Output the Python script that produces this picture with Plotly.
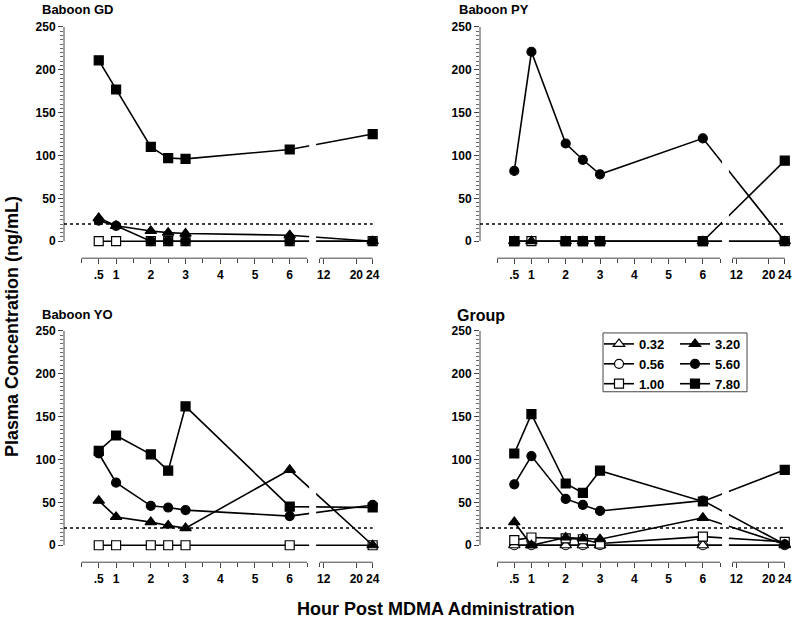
import plotly.graph_objects as go

# ---------------- data ----------------
TIMES = [0.5, 1, 2, 2.5, 3, 6, 24]
DOSES = ["0.32", "0.56", "1.00", "3.20", "5.60", "7.80"]

GD_100 = [0, 0, 0, 0, 0, 0, 0]
GD_320 = [27, 18, 12, 10, 9, 7, 0]
GD_560 = [24, 18, 0, 0, 0, 0, 0]
GD_780 = [211, 177, 110, 97, 96, 107, 125]

PY_100 = [0, 0, 0, 0, 0, 0, 0]
PY_320 = [0, 0, 0, 0, 0, 0, 0]
PY_560 = [82, 221, 114, 95, 78, 120, 0]
PY_780 = [0, None, 0, 0, 0, 0, 94]

YO_100 = [0, 0, 0, 0, 0, 0, 0]
YO_320 = [52, 33, 27, 23, 20, 88, 0]
YO_560 = [107, 73, 46, 44, 41, 34, 47]
YO_780 = [110, 128, 106, 87, 162, 45, 44]

GR_032 = [0, 0, 0, 0, 0, 0, 0]
GR_056 = [0, 0, 0, 0, 0, 0, 0]
GR_100 = [6, 9, 8, 7, 2, 10, 4]
GR_320 = [27, 0, 9, 8, 7, 32, 1]
GR_560 = [71, 104, 54, 47, 40, 52, 1]
GR_780 = [107, 153, 72, 61, 87, 51, 88]

PANEL_TITLES = ["Baboon GD", "Baboon PY", "Baboon YO", "Group"]
X_TICK_HOURS = [0.5, 1, 2, 3, 4, 5, 6, 12, 20, 24]
X_TICK_TEXT = [".5", "1", "2", "3", "4", "5", "6", "12", "20", "24"]
X_MINOR_HOURS = [0, 1.5, 2.5, 3.5, 4.5, 5.5, 6.5, 11]
Y_TICKS = [0, 50, 100, 150, 200, 250]
Y_MINOR = list(range(0, 255, 5))
THRESHOLD = 20

# ---------------- broken-axis scale ----------------
SEG1_END = 6.5
SEG2_START = 11
SEG2_END = 24
GAP = 0.36
K2 = 0.1176


def xpos(h):
    if h <= SEG1_END:
        return h
    return SEG1_END + GAP + (h - SEG2_START) * K2


XR = [-0.5, 8.6]
YR = [-19.8, 255.8]

FONT = "Liberation Sans, Arial, sans-serif"

STYLE = {
    "0.32": ("triangle-up", "white", 10),
    "0.56": ("circle", "white", 9),
    "1.00": ("square", "white", 9),
    "3.20": ("triangle-up", "black", 10),
    "5.60": ("circle", "black", 9),
    "7.80": ("square", "black", 9),
}

panels = [
    {"1.00": GD_100, "3.20": GD_320, "5.60": GD_560, "7.80": GD_780},
    {"1.00": PY_100, "3.20": PY_320, "5.60": PY_560, "7.80": PY_780},
    {"1.00": YO_100, "3.20": YO_320, "5.60": YO_560, "7.80": YO_780},
    {"0.56": GR_056, "0.32": GR_032, "1.00": GR_100, "3.20": GR_320,
     "5.60": GR_560, "7.80": GR_780},
]

W, H = 792, 628


def px(x):
    return x / W


def py(y):
    return 1 - y / H


X_DOM = [[px(64), px(380)], [px(480), px(792)], [px(64), px(380)], [px(480), px(792)]]
TOP_DOM = [py(257), py(20)]
BOT_DOM = [py(562), py(325)]
Y_DOM = [TOP_DOM, TOP_DOM, BOT_DOM, BOT_DOM]

fig = go.Figure()
shapes = []
layout = {}

for i, pdata in enumerate(panels):
    n = "" if i == 0 else str(i + 1)
    xa, ya = "x" + n, "y" + n
    is_group = i == 3
    for dose, vals in pdata.items():
        sym, fill, size = STYLE[dose]
        leg = "legend" if dose in ("0.32", "0.56", "1.00") else "legend2"
        fig.add_trace(go.Scatter(
            x=[xpos(t) for t in TIMES], y=vals,
            mode="lines+markers", name=dose,
            connectgaps=True,
            line=dict(color="black", width=1.6),
            marker=dict(symbol=sym, color=fill, size=size,
                        line=dict(color="black", width=1.2)),
            xaxis=xa, yaxis=ya, showlegend=is_group, legend=leg,
            legendrank=DOSES.index(dose) + 1, cliponaxis=False,
        ))

    layout["xaxis" + n] = dict(
        domain=X_DOM[i], range=XR, anchor=ya, showgrid=False, zeroline=False,
        showline=False, ticks="outside", ticklen=5, tickwidth=1, tickcolor="#444",
        tickmode="array", tickvals=[xpos(h) for h in X_TICK_HOURS], ticktext=X_TICK_TEXT,
        tickfont=dict(family=FONT, size=12, color="black", weight="bold"),
        minor=dict(tickmode="array", tickvals=[xpos(h) for h in X_MINOR_HOURS],
                   ticks="outside", ticklen=4, tickcolor="#444", tickwidth=1),
        fixedrange=True,
    )
    layout["yaxis" + n] = dict(
        domain=Y_DOM[i], range=YR, anchor=xa, showgrid=False, zeroline=False,
        showline=False, ticks="outside", ticklen=5, tickwidth=1, tickcolor="#444",
        tickmode="array", tickvals=Y_TICKS,
        tickfont=dict(family=FONT, size=12, color="black", weight="bold"),
        minor=dict(tickmode="array", tickvals=Y_MINOR, ticks="outside", ticklen=3,
                   tickcolor="#666", tickwidth=1),
        fixedrange=True,
    )
    # y axis line (0..250)
    shapes.append(dict(type="line", xref=xa + " domain", yref=ya, x0=0, x1=0,
                       y0=Y_TICKS[0], y1=Y_TICKS[-1], line=dict(color="#444", width=1)))
    # broken x axis line
    shapes.append(dict(type="line", xref=xa, yref=ya + " domain", x0=xpos(0), x1=xpos(SEG1_END),
                       y0=0, y1=0, line=dict(color="#444", width=1)))
    shapes.append(dict(type="line", xref=xa, yref=ya + " domain", x0=xpos(SEG2_START),
                       x1=xpos(SEG2_END), y0=0, y1=0, line=dict(color="#444", width=1)))
    # break gap over the data lines
    shapes.append(dict(type="rect", xref=xa, yref=ya, x0=xpos(SEG1_END) + 0.06,
                       x1=xpos(SEG2_START) - 0.1, y0=-9, y1=YR[1],
                       fillcolor="white", line=dict(width=0), layer="above"))
    # detection threshold
    shapes.append(dict(type="line", xref=xa, yref=ya, x0=XR[0], x1=xpos(SEG2_END),
                       y0=THRESHOLD, y1=THRESHOLD, layer="above",
                       line=dict(color="black", width=1.5, dash="dot")))

# legend frame
shapes.append(dict(type="rect", xref="paper", yref="paper",
                   x0=px(603), x1=px(747), y0=py(391), y1=py(332),
                   line=dict(color="#444", width=1), fillcolor="rgba(0,0,0,0)"))

annotations = []
title_pos = [(40, 8, 13), (457, 8, 13), (40, 313, 13), (455, 315, 16)]
for t, (tx, ty, fs) in zip(PANEL_TITLES, title_pos):
    annotations.append(dict(text=t, xref="paper", yref="paper", x=px(tx), y=py(ty),
                            xanchor="left", yanchor="middle", showarrow=False,
                            font=dict(family=FONT, size=fs, color="black", weight="bold")))
annotations.append(dict(text="Hour Post MDMA Administration", xref="paper", yref="paper",
                        x=px(436), y=py(609), xanchor="center", yanchor="middle",
                        showarrow=False,
                        font=dict(family=FONT, size=18, color="black", weight="bold")))
annotations.append(dict(text="Plasma Concentration (ng/mL)", xref="paper", yref="paper",
                        x=px(12), y=py(326), xanchor="center", yanchor="middle",
                        textangle=-90, showarrow=False,
                        font=dict(family=FONT, size=18, color="black", weight="bold")))

legend_common = dict(yanchor="top", xanchor="left", y=py(328),
                     bgcolor="rgba(0,0,0,0)", borderwidth=0, traceorder="normal",
                     font=dict(family=FONT, size=13, color="black", weight="bold"))

fig.update_layout(
    width=W, height=H, margin=dict(l=0, r=0, t=0, b=0),
    paper_bgcolor="white", plot_bgcolor="white",
    shapes=shapes, annotations=annotations,
    legend=dict(x=px(599), **legend_common),
    legend2=dict(x=px(675), **legend_common),
    hovermode=False,
    **layout,
)

fig.write_html(
    "out.html",
    config={"displayModeBar": False, "staticPlot": True},
    post_script="document.body.style.margin='0px';document.body.style.overflow='hidden';",
)
